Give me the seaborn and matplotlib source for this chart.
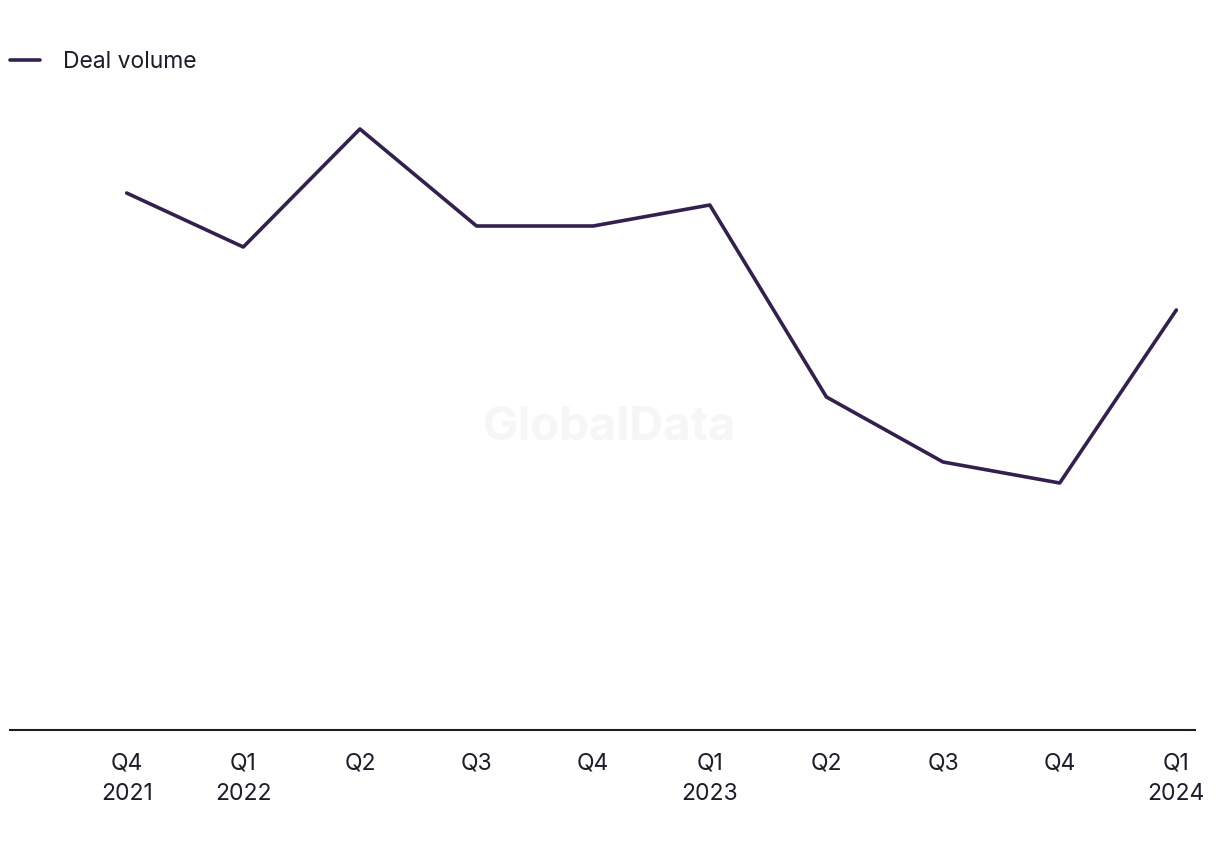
import pandas as pd
import matplotlib
matplotlib.use('Agg')
import matplotlib.pyplot as plt
import seaborn as sns

# Quarterly deal volume (relative scale)
quarters = ['Q4\n2021', 'Q1\n2022', 'Q2', 'Q3', 'Q4', 'Q1\n2023', 'Q2', 'Q3', 'Q4', 'Q1\n2024']
deal_volume = [537, 483, 601, 504, 504, 525, 333, 268, 247, 420]

df = pd.DataFrame({'pos': range(len(quarters)), 'Deal volume': deal_volume})

sns.set_theme(style='white')
plt.rcParams['font.family'] = ['Inter', 'DejaVu Sans']

line_color = '#33204f'
text_color = '#1c1c2b'

fig = plt.figure(figsize=(12.2, 8.5), dpi=100)
ax = fig.add_axes([10 / 1220, 120 / 850, 1185 / 1220, 650 / 850])

sns.lineplot(data=df, x='pos', y='Deal volume', color=line_color, linewidth=2.6,
             ax=ax, label='Deal volume', legend=False)

ax.set_xlim(-1, 9.16)
ax.set_ylim(0, 650)
ax.set_xticks(range(len(quarters)))
ax.set_xticklabels(quarters, fontsize=16.5, color=text_color, linespacing=1.5)
ax.tick_params(axis='x', length=0, pad=16)
ax.set_yticks([])
ax.set_xlabel('')
ax.set_ylabel('')
for side in ['top', 'right', 'left']:
    ax.spines[side].set_visible(False)
ax.spines['bottom'].set_color(text_color)
ax.spines['bottom'].set_linewidth(1.5)

# watermark
fig.text(0.5, 0.497, 'GlobalData', ha='center', va='center', fontsize=34,
         fontweight='bold', color='#f6f6f6', zorder=0)

# legend at top left
fig.legend(handles=ax.get_lines(), labels=['Deal volume'], loc='center left',
           bbox_to_anchor=(10 / 1220, 1 - 62 / 850), frameon=False, fontsize=16.5,
           borderaxespad=0, borderpad=0, handlelength=1.3, handletextpad=1.0,
           labelcolor=text_color)

fig.savefig('out.png', dpi=100)
